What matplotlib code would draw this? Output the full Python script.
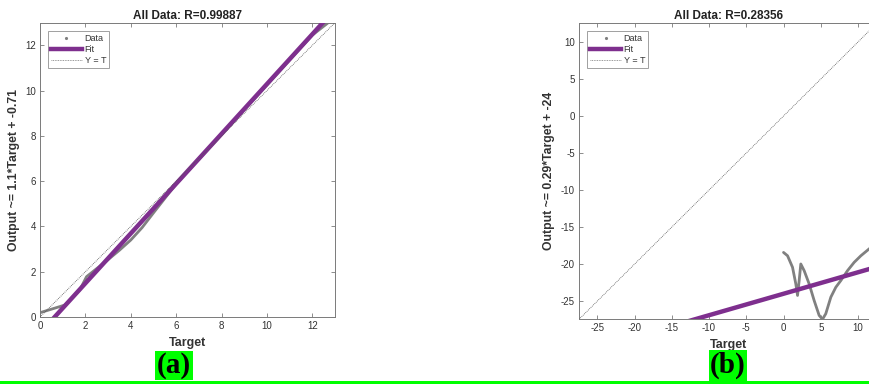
import matplotlib
matplotlib.use("Agg")
import matplotlib.pyplot as plt
from matplotlib.lines import Line2D
from matplotlib.patches import Rectangle
import numpy as np

plt.rcParams["font.family"] = ["Liberation Sans", "DejaVu Sans"]
plt.rcParams["axes.unicode_minus"] = False

# ---- panel (a): regression, R = 0.99887 ----
target_a = [0.0, 1.1, 1.75, 2.05, 2.5, 2.9, 3.5, 4.0, 4.5, 5.0, 6.0, 7.0,
            8.0, 9.0, 10.0, 11.0, 12.0, 12.7]
output_a = [0.19, 0.53, 1.19, 1.78, 2.14, 2.45, 2.95, 3.40, 3.95, 4.60, 5.88,
            6.97, 8.05, 9.15, 10.25, 11.35, 12.45, 13.0]
slope_a, icept_a = 1.1, -0.71
r_a = 0.99887
lim_a = [0.0, 13.0]
ticks_a = [0, 2, 4, 6, 8, 10, 12]

# ---- panel (b): regression, R = 0.28356 ----
target_b = [0.0, 0.54, 1.21, 1.65, 1.88, 2.10, 2.32, 2.77, 3.44, 4.11, 4.78,
            5.23, 5.67, 6.35, 7.02, 7.69, 8.59, 9.48, 10.38, 11.72, 12.6]
output_b = [-18.42, -18.87, -20.43, -22.67, -24.23, -22.22, -19.98, -20.88,
            -22.67, -24.91, -26.92, -27.45, -26.70, -24.46, -23.12, -22.22,
            -20.88, -19.76, -18.87, -17.75, -17.0]
slope_b, icept_b = 0.29, -24
r_b = 0.28356
lim_b = [-27.45, 12.6]
ticks_b = [-25, -20, -15, -10, -5, 0, 5, 10]

GRAY = "#808080"
PURPLE = "#7E2F8E"
TXT = "#333333"
AX = "#7a7a7a"

W, H = 870, 392
fig = plt.figure(figsize=(W / 100, H / 100), dpi=100)
fig.patch.set_facecolor("white")


def px_axes(left, top, right, bottom):
    return fig.add_axes([left / W, 1 - bottom / H, (right - left) / W,
                         (bottom - top) / H])


def regression_panel(ax, t, y, slope, icept, r, lim, ticks, ylab):
    lim_arr = np.array(lim)
    ax.plot(t, y, color=GRAY, lw=2.0, solid_capstyle="round", zorder=2)
    ax.plot(lim_arr, slope * lim_arr + icept, color=PURPLE, lw=3.2,
            solid_capstyle="butt", zorder=3)
    ax.plot(lim_arr, lim_arr, color="#555555", lw=0.6, ls=(0, (1, 1.2)),
            zorder=4)
    ax.set_xlim(lim)
    ax.set_ylim(lim)
    ax.set_xticks(ticks)
    ax.set_yticks(ticks)
    ax.tick_params(direction="in", top=True, right=True, length=3,
                   width=0.6, color=AX, labelsize=7, labelcolor=TXT, pad=3)
    for s in ax.spines.values():
        s.set_color(AX)
        s.set_linewidth(0.7)
    ax.set_title(f"All Data: R={r:.5f}", fontsize=8.5, fontweight="bold",
                 color="#222222", pad=3)
    ax.set_xlabel("Target", fontsize=9, fontweight="bold", color=TXT,
                  labelpad=4)
    ax.set_ylabel(ylab, fontsize=8.8, fontweight="bold", color=TXT,
                  labelpad=4)
    handles = [
        Line2D([], [], ls="none", marker=".", ms=2.5, color=GRAY),
        Line2D([], [], color=PURPLE, lw=3.2),
        Line2D([], [], color="#777777", lw=0.6, ls=(0, (1, 1))),
    ]
    leg = ax.legend(handles, ["Data", "Fit", "Y = T"], loc="upper left",
                    bbox_to_anchor=(0.027, 0.973), fontsize=6.5, frameon=True,
                    fancybox=False, handlelength=3.4, handletextpad=0.3,
                    borderpad=0.35, labelspacing=0.22, borderaxespad=0)
    leg.get_frame().set_edgecolor("#888888")
    leg.get_frame().set_linewidth(0.7)
    for tx in leg.get_texts():
        tx.set_color(TXT)


ax_a = px_axes(40, 22.7, 335, 317)
regression_panel(ax_a, target_a, output_a, slope_a, icept_a, r_a, lim_a,
                 ticks_a, "Output ~= 1.1*Target + -0.71")

ax_b = px_axes(579, 22.7, 877.4, 319.3)
regression_panel(ax_b, target_b, output_b, slope_b, icept_b, r_b, lim_b,
                 ticks_b, "Output ~= 0.29*Target + -24")

# panel tags on green boxes
for label, xc in [("(a)", 174), ("(b)", 728)]:
    fig.text(xc / W, 1 - 365.5 / H, label, ha="center", va="center",
             fontsize=21, fontweight="bold", family="Liberation Serif",
             color="black",
             bbox=dict(boxstyle="square,pad=0.05", facecolor="#00FF00",
                       edgecolor="none"))

# green rule along the bottom
fig.add_artist(Rectangle((0, 1 - 383.5 / H), 1, 3 / H,
                         transform=fig.transFigure, facecolor="#00FF00",
                         edgecolor="none"))

fig.savefig("out.png", dpi=100)
